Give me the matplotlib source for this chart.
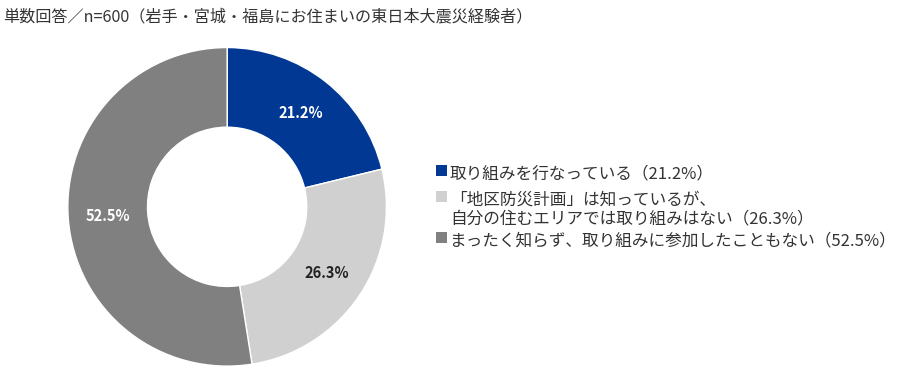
import matplotlib
matplotlib.use("Agg")
import numpy as np
import matplotlib.pyplot as plt
from matplotlib.patches import Rectangle

plt.rcParams['font.family'] = ['Noto Sans CJK JP', 'DejaVu Sans']

# data
labels = ['取り組みを行なっている（21.2%）',
          '「地区防災計画」は知っているが、\n自分の住むエリアでは取り組みはない（26.3%）',
          'まったく知らず、取り組みに参加したこともない（52.5%）']
values = [21.2, 26.3, 52.5]
colors = ['#003894', '#d0d0d0', '#808080']
pct_colors = ['white', '#222222', 'white']
title = '単数回答／n=600（岩手・宮城・福島にお住まいの東日本大震災経験者）'

W, H = 897, 368
fig = plt.figure(figsize=(W / 100, H / 100), dpi=100)
ax = fig.add_axes([0.0747, 0.003, 0.357, 0.87])

wedges, texts = ax.pie(values, colors=colors, startangle=90, counterclock=False,
                       wedgeprops=dict(width=0.5, edgecolor='white', linewidth=1))
for w, v, c in zip(wedges, values, pct_colors):
    ang = np.deg2rad((w.theta1 + w.theta2) / 2)
    ax.text(0.75 * np.cos(ang), 0.75 * np.sin(ang), f'{v}%', ha='center', va='center',
            color=c, fontsize=10.5, weight='bold')
ax.set_xlim(-1.005, 1.005)
ax.set_ylim(-1.005, 1.005)
ax.set_aspect('equal')

fig.text(0.003, 0.955, title, fontsize=11.6, color='#333333', va='center', ha='left')

# legend drawn by hand: square aligned with the first line of each label
row_top = [170, 196, 237]   # pixel centre of each entry's first line
sq = 11
for lab, c, y in zip(labels, colors, row_top):
    fig.add_artist(Rectangle(((436) / W, (H - y - sq / 2) / H), sq / W, sq / H,
                             transform=fig.transFigure, facecolor=c, edgecolor='none'))
    fig.text(450 / W, (H - y) / H + 0.012, lab, fontsize=12, color='#333333',
             ha='left', va='top', linespacing=1.15)

fig.savefig('out.png', dpi=100)
